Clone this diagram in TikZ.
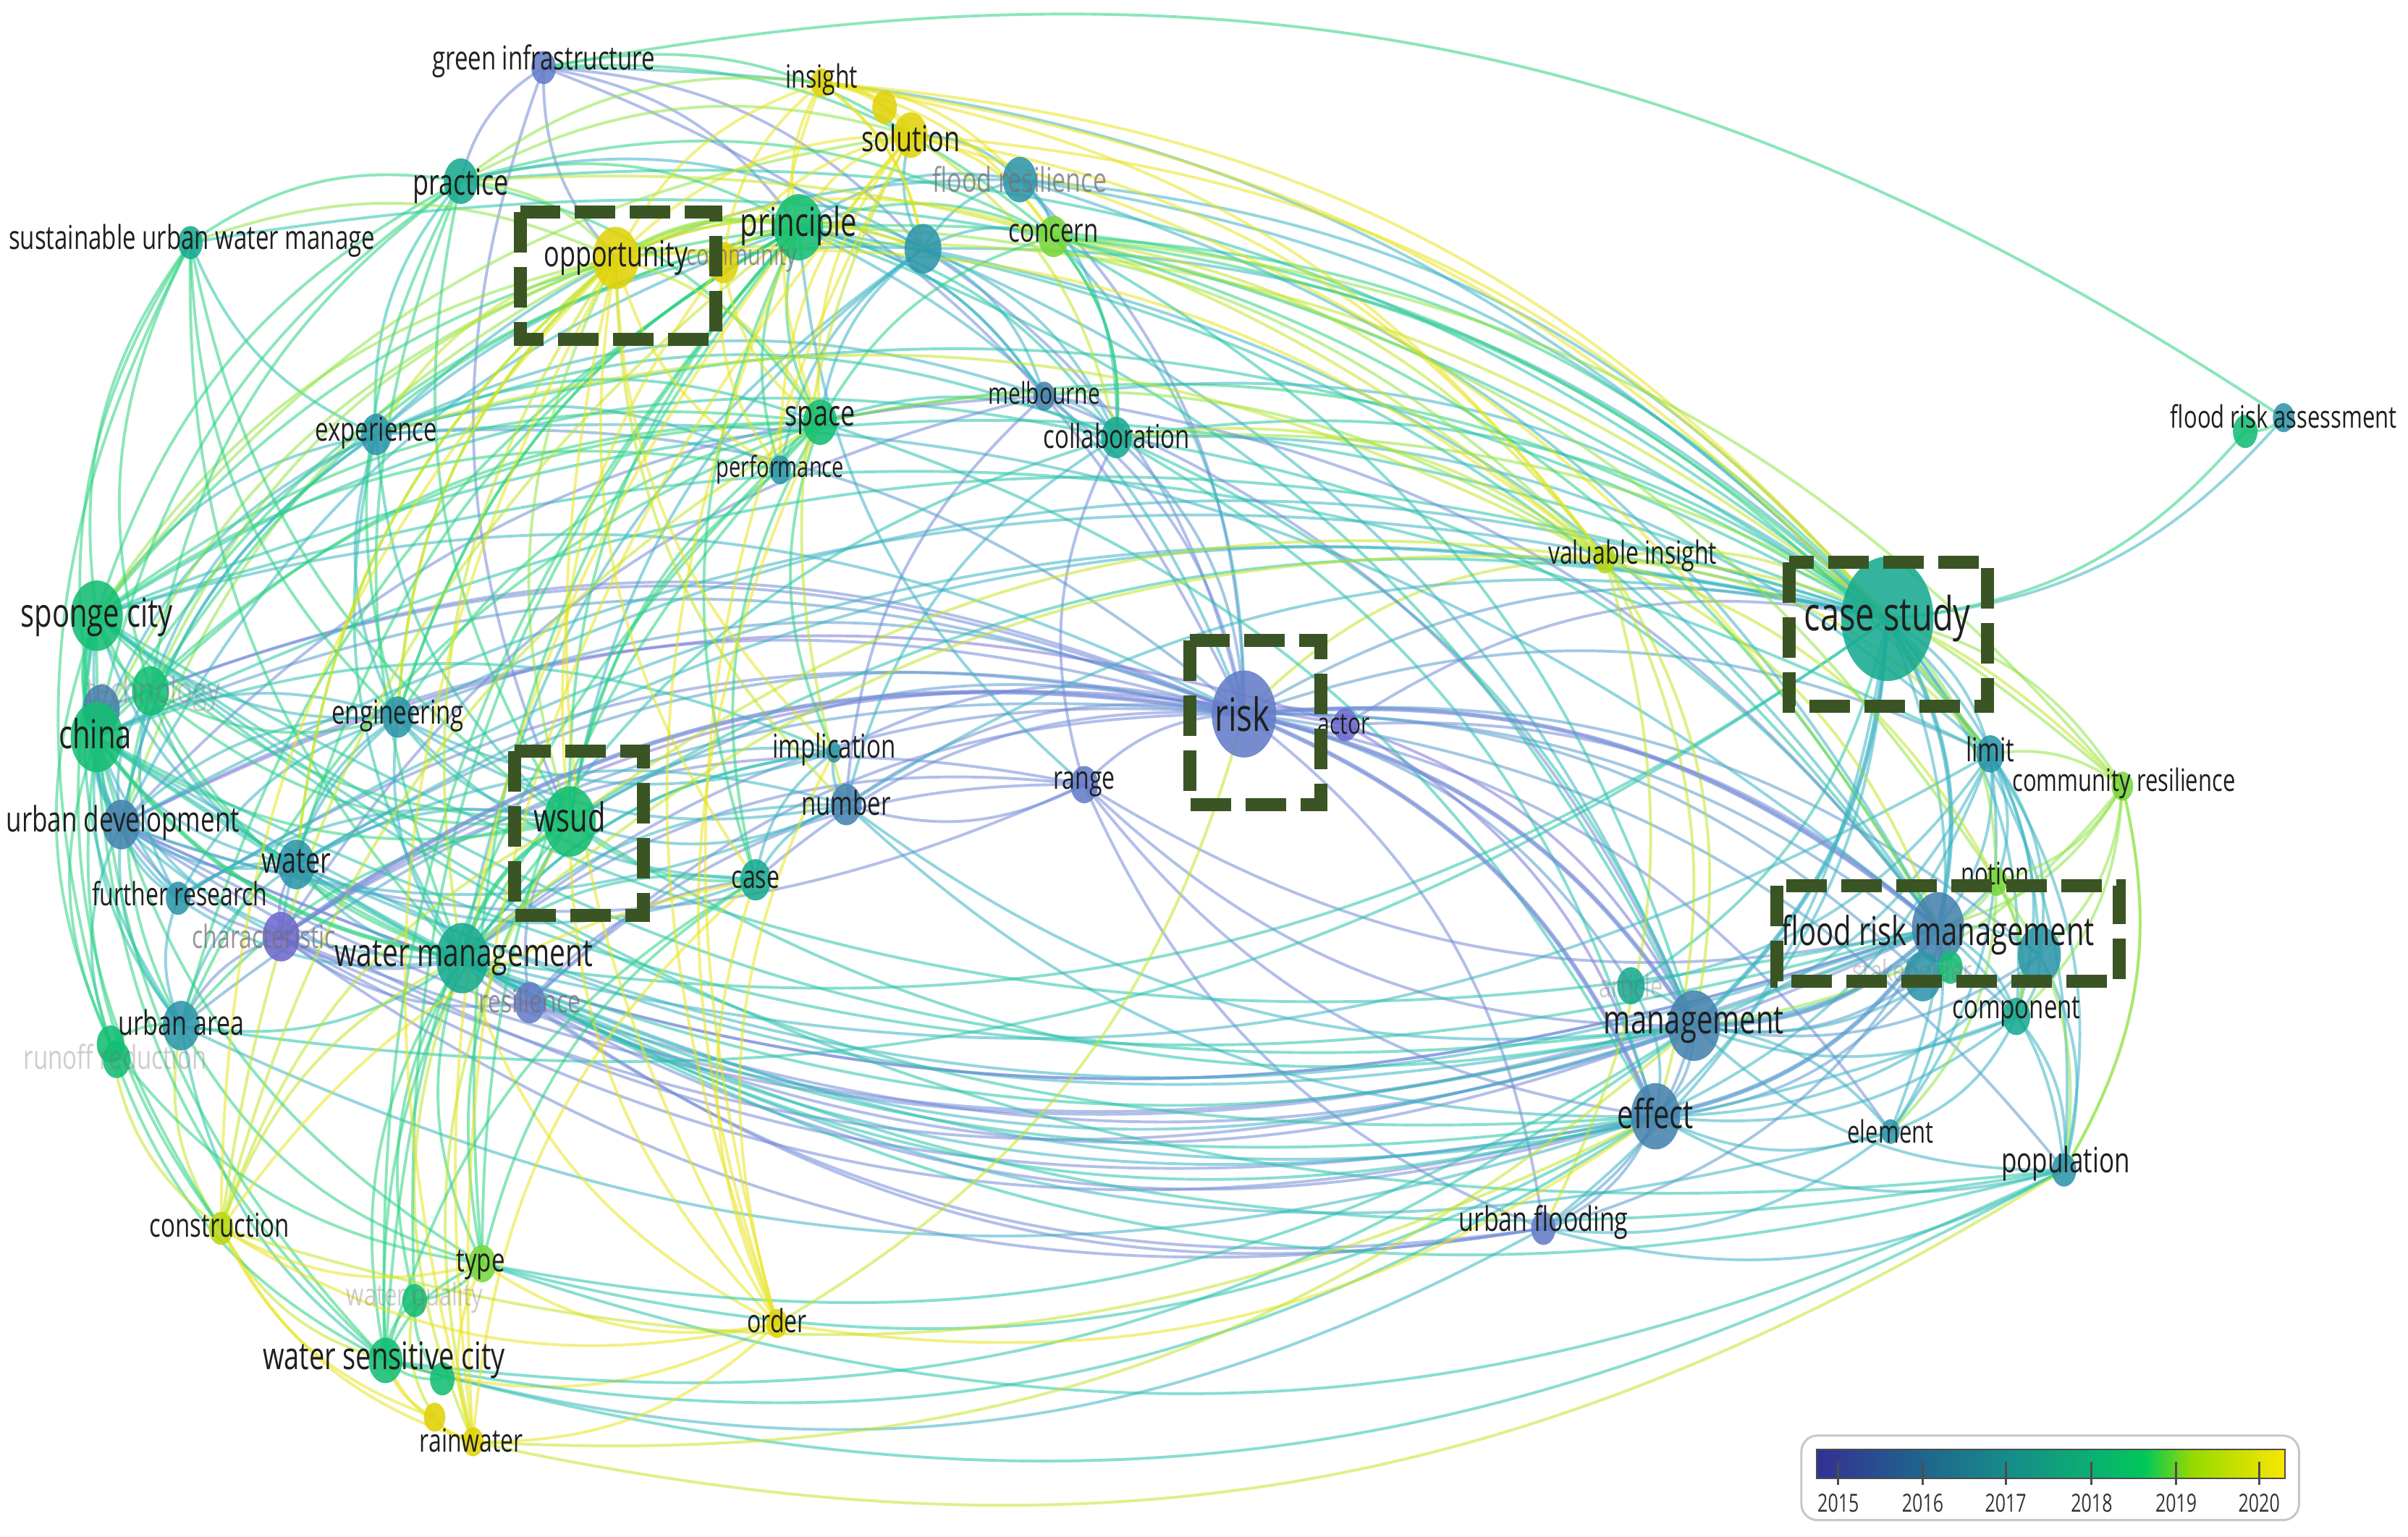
\documentclass[tikz,border=0pt]{standalone}
\usepackage{fontspec}
\usepackage{graphicx}
\setmainfont{Open Sans}
\usetikzlibrary{shapes.geometric}
\pgfdeclarelayer{bg}\pgfdeclarelayer{edges}
\pgfsetlayers{bg,edges,main}
% node colours
\definecolor{nB}{RGB}{100,125,200}
\definecolor{nP}{RGB}{110,105,205}
\definecolor{nBT}{RGB}{70,130,175}
\definecolor{nT}{RGB}{45,150,170}
\definecolor{nTG}{RGB}{25,170,145}
\definecolor{nG}{RGB}{20,190,115}
\definecolor{nL}{RGB}{120,215,60}
\definecolor{nYG}{RGB}{185,215,20}
\definecolor{nY}{RGB}{225,210,10}
% edge colours
\definecolor{eB}{RGB}{115,140,215}
\definecolor{eP}{RGB}{125,120,220}
\definecolor{eBT}{RGB}{90,155,205}
\definecolor{eT}{RGB}{60,180,195}
\definecolor{eTG}{RGB}{40,195,170}
\definecolor{eG}{RGB}{45,210,130}
\definecolor{eL}{RGB}{145,228,70}
\definecolor{eYG}{RGB}{195,228,40}
\definecolor{eY}{RGB}{232,228,30}
% legend
\definecolor{vA}{RGB}{52,48,148}
\definecolor{vB}{RGB}{32,100,140}
\definecolor{vC}{RGB}{22,140,138}
\definecolor{vD}{RGB}{10,178,112}
\definecolor{vE}{RGB}{0,200,90}
\definecolor{vF}{RGB}{150,218,0}
\definecolor{vG}{RGB}{250,230,0}
\definecolor{boxgreen}{RGB}{58,84,36}
\definecolor{fadetext}{RGB}{120,110,120}
\pgfdeclarehorizontalshading{vbar}{100bp}{color(0bp)=(vA); color(25bp)=(vA); color(36bp)=(vB); color(45.5bp)=(vC); color(55bp)=(vD); color(60bp)=(vE); color(65bp)=(vF); color(75bp)=(vG); color(100bp)=(vG)}
\tikzset{
  nd/.style={ellipse, inner sep=0pt, draw=none, fill opacity=0.88},
  lbl/.style={inner sep=0pt, text=black!88},
  lblf/.style={inner sep=0pt, text=fadetext, text opacity=0.75},
  lblff/.style={inner sep=0pt, text=fadetext, text opacity=0.35},
  lnk/.style={draw=#1, draw opacity=0.55},
  dbox/.style={draw=boxgreen, line width=18pt, dash pattern=on 56pt off 20pt},
}
\newcommand\Nd[5]{\node[nd, fill=#5, minimum width={4.2436*#4pt}, minimum height={5.73*#4pt}] (#1) at (#2,#3) {};}
\newcommand\Lb[6][lbl]{\node[#1, font=\fontsize{#5}{#5}\selectfont] (#2) at (#3,#4) {\scalebox{1}[1.38]{#6}};}
\newcommand\E[4][3.9pt]{%
  \pgfpointanchor{#2}{center}\pgfgetlastxy\ax\ay
  \pgfpointanchor{#3}{center}\pgfgetlastxy\bx\by
  \pgfmathsetmacro\dx{(\bx)-(\ax)}%
  \pgfmathsetmacro\dy{(\by)-(\ay)}%
  \pgfmathsetmacro\zz{((\dx)/100)*((-1061-(\ay))/100)-((\dy)/100)*((1655-(\ax))/100)}%
  \pgfmathsetmacro\SS{(\zz>0) ? -0.3746 : 0.3746}%
  \pgfmathsetmacro\cax{(\ax)+0.3915*(0.927*(\dx)-(\SS)*(\dy))}%
  \pgfmathsetmacro\cay{(\ay)+0.3915*((\SS)*(\dx)+0.927*(\dy))}%
  \pgfmathsetmacro\cbx{(\bx)-0.3915*(0.927*(\dx)+(\SS)*(\dy))}%
  \pgfmathsetmacro\cby{(\by)-0.3915*(0.927*(\dy)-(\SS)*(\dx))}%
  \draw[lnk=#4, line width=#1] (#2.center) .. controls (\cax pt,\cay pt) and (\cbx pt,\cby pt) .. (#3.center);
}
\begin{document}
\begin{tikzpicture}[x=2.1218pt,y=-2.1218pt]
\useasboundingbox (0,0) rectangle (1568,1001);
\begin{pgfonlayer}{bg}
\fill[white] (0,0) rectangle (1568,1001);
\end{pgfonlayer}
% ---------------- nodes ----------------
\Nd{gi}{354}{44}{8}{nB}
\Nd{ins}{535}{54}{7}{nY}
\Nd{insb}{576}{70}{8}{nY}
\Nd{sol}{593}{88}{11}{nY}
\Nd{fr}{664}{117}{11}{nT}
\Nd{pra}{300}{118}{11}{nTG}
\Nd{prn}{520}{148}{16}{nG}
\Nd{hub}{601}{162}{12}{nT}
\Nd{con}{686}{154}{10}{nL}
\Nd{opp}{401}{168}{15}{nY}
\Nd{com}{471}{171}{10}{nY}
\Nd{suw}{124}{158}{8}{nTG}
\Nd{exp}{245}{283}{10}{nT}
\Nd{spa}{534}{275}{11}{nG}
\Nd{per}{508}{306}{7}{nT}
\Nd{mel}{680}{258}{7}{nBT}
\Nd{col}{727}{285}{10}{nTG}
\Nd{sc}{63}{401}{17}{nG}
\Nd{tecb}{66}{462}{12}{nBT}
\Nd{tec}{98}{450}{12}{nG}
\Nd{chi}{63}{480}{17}{nG}
\Nd{eng}{259}{467}{10}{nT}
\Nd{wsud}{371}{535}{17}{nG}
\Nd{imp}{543}{490}{5}{nT}
\Nd{num}{551}{524}{10}{nBT}
\Nd{ran}{706}{511}{9}{nB}
\Nd{risk}{810}{465}{21}{nB}
\Nd{act}{876}{472}{8}{nP}
\Nd{ud}{79}{537}{12}{nBT}
\Nd{wat}{193}{563}{12}{nT}
\Nd{fre}{116}{585}{8}{nT}
\Nd{cha}{183}{610}{12}{nP}
\Nd{wm}{301}{624}{17}{nTG}
\Nd{res}{345}{653}{10}{nB}
\Nd{cas}{492}{573}{10}{nTG}
\Nd{ua}{118}{668}{12}{nT}
\Nd{ro}{72}{680}{9}{nG}
\Nd{rob}{76}{690}{9}{nG}
\Nd{cst}{144}{800}{8}{nYG}
\Nd{typ}{314}{823}{9}{nL}
\Nd{wq}{270}{847}{8}{nG}
\Nd{wsc}{251}{886}{11}{nG}
\Nd{wscb}{288}{898}{8}{nG}
\Nd{rwb}{283}{923}{7}{nY}
\Nd{rw}{308}{939}{7}{nY}
\Nd{ord}{506}{862}{7}{nY}
\Nd{vi}{1045}{364}{7}{nYG}
\Nd{cs}{1229}{403}{30}{nTG}
\Nd{frab}{1462}{281}{8}{nG}
\Nd{fra}{1487}{272}{7}{nT}
\Nd{lim}{1296}{491}{9}{nT}
\Nd{cr}{1382}{512}{7}{nL}
\Nd{not}{1300}{574}{7}{nL}
\Nd{frm}{1262}{604}{17}{nBT}
\Nd{frm2}{1328}{622}{14}{nT}
\Nd{frm3}{1252}{636}{12}{nT}
\Nd{stk}{1270}{630}{8}{nG}
\Nd{cmp}{1313}{662}{9}{nTG}
\Nd{art}{1062}{642}{9}{nTG}
\Nd{man}{1103}{668}{17}{nBT}
\Nd{eff}{1078}{727}{16}{nBT}
\Nd{ele}{1231}{737}{6}{nT}
\Nd{pop}{1344}{762}{8}{nT}
\Nd{uf}{1005}{800}{8}{nB}
% ---------------- edges ----------------
\begin{pgfonlayer}{edges}
\foreach \a/\b/\c in {risk/ran/eB, risk/act/eP, risk/man/eB, risk/eff/eB, risk/uf/eB, risk/frm/eB, risk/frm2/eBT, risk/frm3/eBT, risk/cs/eBT, risk/wm/eB, risk/cha/eB, risk/res/eB, risk/ud/eB, risk/chi/eBT, risk/eng/eBT, risk/exp/eBT, risk/wsud/eBT, risk/num/eB, risk/mel/eB, risk/col/eBT, risk/fre/eB, risk/wat/eBT, risk/lim/eBT, risk/ele/eB, risk/pop/eBT, risk/cmp/eBT, risk/art/eBT, risk/prn/eT, risk/gi/eB, risk/cas/eB, risk/imp/eB, risk/sc/eT, risk/ua/eBT, risk/fr/eB, risk/hub/eB, risk/con/eT, risk/vi/eYG, risk/tec/eB, risk/tecb/eB,
act/man/eP, act/eff/eP, act/frm/eB, act/cs/eB, act/cha/eP, act/ud/eP,
ran/man/eB, ran/eff/eB, ran/uf/eB, ran/wm/eB, ran/cha/eB, ran/ud/eB, ran/frm/eB, ran/num/eB, ran/res/eB, ran/prn/eT, ran/col/eB,
gi/pra/eB, gi/opp/eB, gi/prn/eB, gi/wsud/eB, gi/hub/eB, gi/cs/eT, gi/fra/eG, gi/sol/eG, gi/con/eG,
cha/man/eB, cha/eff/eB, cha/frm/eB, cha/uf/eB, cha/res/eB, cha/wat/eP, cha/ud/eB, cha/wm/eB, cha/ua/eB, cha/chi/eT,
res/eff/eB, res/man/eB, res/uf/eB, res/wm/eB, res/frm/eB, res/wsud/eB, res/cas/eB,
ud/man/eB, ud/eff/eB, ud/frm/eB, ud/cs/eT, ud/wat/eT, ud/fre/eT, ud/chi/eT, ud/sc/eT, ud/ua/eT, ud/wm/eT, ud/eng/eT, ud/tec/eT, ud/exp/eT, ud/ro/eTG, ud/prn/eT, ud/opp/eL,
man/frm/eBT, man/frm2/eBT, man/frm3/eBT, man/eff/eBT, man/cmp/eT, man/ele/eT, man/pop/eT, man/lim/eT, man/cs/eT, man/art/eT, man/uf/eBT, man/not/eT, man/stk/eT, man/chi/eT,
eff/frm/eBT, eff/frm2/eT, eff/cmp/eT, eff/ele/eT, eff/pop/eT, eff/lim/eT, eff/cs/eT, eff/uf/eBT, eff/art/eT, eff/frm3/eBT, eff/wat/eT, eff/ua/eT,
uf/frm/eBT, uf/cs/eT, uf/pop/eT, uf/wsc/eT, uf/wm/eB, uf/ele/eT,
frm/frm2/eT, frm/frm3/eT, frm/cmp/eT, frm/pop/eT, frm/ele/eT, frm/lim/eT, frm/cs/eT, frm/not/eL, frm/cr/eL, frm/stk/eG, frm/ud/eB, frm/wat/eT, frm/exp/eT,
frm2/cmp/eT, frm2/pop/eT, frm2/lim/eT, frm2/cs/eT, frm2/cr/eL,
cmp/pop/eT, cmp/lim/eT, cmp/cs/eT, cmp/ele/eT, cmp/not/eL, cmp/wm/eT,
lim/cs/eT, lim/cr/eL, lim/not/eT, lim/pop/eT, lim/ele/eT, lim/art/eT, lim/wm/eT, lim/sc/eTG,
pop/cs/eT, pop/not/eL, pop/cr/eL, ele/cs/eT, pop/chi/eTG, pop/sc/eTG, pop/wm/eTG, ele/wm/eT,
cs/fra/eT, cs/frab/eG, fra/frab/eG,
cs/cr/eL, cs/not/eL, cs/vi/eYG, cs/col/eTG, cs/con/eG, cs/fr/eT, cs/hub/eT, cs/prn/eG, cs/spa/eG, cs/sc/eTG, cs/chi/eTG, cs/wm/eTG, cs/wsud/eTG, cs/exp/eTG, cs/pra/eTG, cs/art/eTG, cs/num/eT, cs/sol/eY, cs/ins/eY, cs/opp/eYG, cs/suw/eTG, cs/mel/eT, cs/eng/eT, cs/ua/eTG, cs/wat/eT, cs/fre/eT,
fr/con/eT, fr/sol/eT, fr/prn/eT, fr/hub/eT, fr/col/eT, fr/frm/eT, fr/lim/eT, fr/exp/eT, fr/ins/eY,
hub/prn/eT, hub/sol/eT, hub/ins/eY, hub/con/eT, hub/col/eT, hub/spa/eT, hub/per/eT, hub/wsud/eT, hub/mel/eT, hub/man/eT, hub/frm/eT, hub/opp/eYG, hub/exp/eT, hub/wm/eT,
col/exp/eTG, col/prn/eTG, col/spa/eTG, col/man/eTG, col/eff/eTG, col/frm/eTG, col/mel/eT, col/num/eT, col/sc/eTG, col/con/eG, col/wm/eTG, col/cr/eL, col/lim/eT,
mel/man/eB, mel/frm/eB, mel/cha/eB, mel/ud/eB, mel/exp/eT, mel/prn/eT, mel/num/eB,
num/cas/eT, num/wsud/eT, num/imp/eT, num/man/eT, num/eff/eT, num/eng/eT, num/wm/eT, num/wat/eT, num/ud/eT,
imp/cas/eT, imp/wsud/eT, imp/eng/eT, imp/wm/eT, imp/spa/eG, imp/chi/eTG,
exp/sc/eT, exp/chi/eT, exp/eng/eT, exp/pra/eTG, exp/wsud/eTG, exp/wm/eTG, exp/suw/eTG, exp/spa/eTG, exp/per/eT, exp/tec/eT, exp/ud/eT,
eng/chi/eT, eng/sc/eT, eng/wat/eT, eng/wm/eT, eng/wsud/eTG, eng/cas/eT, eng/tec/eG, eng/fre/eT, eng/cha/eT, eng/opp/eYG, eng/prn/eG, eng/spa/eG,
wat/chi/eT, wat/fre/eT, wat/wm/eT, wat/ua/eT, wat/wsud/eT, wat/sc/eT, wat/tec/eT, wat/cas/eT, wat/opp/eYG, wat/prn/eG,
ua/chi/eTG, ua/ro/eG, ua/cst/eYG, ua/wm/eTG, ua/fre/eT, ua/wsc/eTG, ua/typ/eG, ua/sc/eTG, ua/tec/eG, ua/prn/eG, ua/spa/eG,
wm/chi/eG, wm/sc/eG, wm/wsud/eG, wm/cas/eTG, wm/typ/eG, wm/wsc/eG, wm/wq/eG, wm/fre/eT, wm/pra/eG, wm/eff/eTG, wm/man/eT, wm/frm/eTG, wm/imp/eTG, wm/tec/eG, wm/rw/eYG, wm/ord/eY, wm/cst/eYG,
fre/chi/eT, fre/sc/eT, fre/tec/eT, fre/wsud/eT,
sc/chi/eG, sc/tec/eG, sc/suw/eG, sc/pra/eG, sc/wsud/eG, sc/prn/eG, sc/spa/eG, sc/cst/eG, sc/ro/eG, sc/wsc/eG, sc/frm/eTG, sc/man/eTG, sc/eff/eTG, sc/per/eG, sc/opp/eL, sc/sol/eL,
chi/tec/eG, chi/ro/eG, chi/wsud/eG, chi/cst/eG, chi/typ/eG, chi/suw/eG, chi/pra/eG, chi/frm/eTG, chi/eff/eTG, chi/wsc/eG, chi/spa/eG, chi/tecb/eT, chi/opp/eL, chi/prn/eG,
tec/wsud/eG, tec/prn/eG, tec/pra/eG, tec/suw/eG, tec/opp/eL, tec/spa/eG,
suw/pra/eG, suw/wsud/eG, suw/ro/eG, suw/wm/eG, suw/eng/eG, suw/opp/eL,
pra/opp/eL, pra/prn/eG, pra/spa/eG, pra/sol/eL, pra/wsud/eG, pra/eng/eG, pra/ins/eL, pra/con/eG, pra/hub/eT,
prn/opp/eL, prn/spa/eG, prn/sol/eY, prn/ins/eY, prn/con/eG, prn/wsud/eG, prn/per/eG, prn/man/eTG, prn/frm/eTG, prn/vi/eL, prn/cas/eG, prn/eng/eG, prn/mel/eT,
spa/wsud/eG, spa/per/eG, spa/cas/eG, spa/con/eG, spa/vi/eL, spa/eff/eTG,
wsud/cas/eG, wsud/wsc/eG, wsud/typ/eG, wsud/ord/eY, wsud/rw/eYG, wsud/opp/eL, wsud/cst/eYG, wsud/ua/eG, wsud/per/eG, wsud/man/eTG,
wsc/wq/eG, wsc/typ/eG, wsc/rw/eY, wsc/rwb/eY, wsc/wscb/eG, wsc/cst/eYG, wsc/ord/eY, wsc/pop/eTG, wsc/eff/eTG, wsc/cas/eG, wsc/ro/eG, wsc/man/eTG, wsc/prn/eG, wsc/spa/eG,
ro/cst/eYG, ro/rob/eG, ro/typ/eG,
typ/wq/eG, typ/rw/eY, typ/cas/eG, typ/ord/eY, typ/man/eTG, typ/eff/eTG, typ/pop/eTG, typ/spa/eG, typ/prn/eG,
wq/rwb/eYG, wq/wscb/eG, wq/prn/eG,
opp/sol/eY, opp/ins/eY, opp/spa/eYG, opp/exp/eYG, opp/wm/eYG, opp/eng/eYG, opp/imp/eY, opp/num/eYG, opp/cas/eY, opp/per/eY, opp/com/eY, opp/vi/eY, opp/cst/eY, opp/ord/eY, opp/con/eY, opp/hub/eYG, opp/wat/eYG,
sol/ins/eY, sol/insb/eY, sol/con/eY, sol/col/eYG, sol/spa/eY, sol/vi/eY, sol/per/eY, sol/com/eY, sol/num/eYG, sol/frm/eY,
ins/insb/eY, ins/con/eY, ins/vi/eY, ins/com/eY, ins/spa/eY, ins/hub/eY, ins/lim/eY,
com/spa/eY, com/per/eY, com/prn/eY, com/wsud/eY,
ord/rw/eY, ord/cas/eY, ord/cst/eY, ord/spa/eY, ord/eff/eY, ord/risk/eYG, ord/imp/eY, ord/prn/eY, ord/sol/eY,
rw/rwb/eY, rw/cst/eY, rw/man/eYG, rw/cas/eY, rw/pop/eYG, rw/prn/eY, rw/opp/eY, rw/sol/eY,
cst/rwb/eY, cst/typ/eY, cst/cas/eY, cst/eff/eYG, cst/prn/eYG, cst/spa/eYG,
vi/man/eYG, vi/eff/eYG, vi/frm/eYG, vi/cr/eYG, vi/not/eYG, vi/uf/eYG, vi/lim/eYG, vi/col/eYG, vi/con/eYG, vi/pra/eYG, vi/wsud/eYG, vi/exp/eYG, vi/wm/eYG,
con/col/eG, con/frm/eG, con/cr/eL, con/not/eL, con/lim/eG, con/man/eTG,
cr/cmp/eL, cr/pop/eL, cr/man/eL, cr/not/eL,
not/cmp/eL, not/ele/eL}{\E{\a}{\b}{\c}}
\foreach \a/\b/\c in {risk/man/eB, risk/eff/eB, risk/frm/eB, cs/frm/eT, cs/man/eT, sc/chi/eG, wm/wsud/eG, man/frm/eBT, eff/frm/eBT, wm/chi/eG, prn/opp/eL, risk/cha/eB, ud/chi/eT}{\E[6.5pt]{\a}{\b}{\c}}
\end{pgfonlayer}
% ---------------- labels ----------------
\Lb[lblf]{t-com}{483}{168}{29}{community}
\Lb{t-gi}{354}{40}{33}{green infrastructure}
\Lb{t-ins}{535}{52}{32}{insight}
\Lb{t-sol}{593}{90}{36}{solution}
\Lb[lblf]{t-fr}{664}{117}{34}{flood resilience}
\Lb{t-pra}{300}{121}{36}{practice}
\Lb{t-prn}{520}{147}{40}{principle}
\Lb{t-con}{686}{152}{33}{concern}
\Lb{t-opp}{401}{168}{36}{opportunity}
\Lb{t-suw}{125}{157}{33}{sustainable urban water manage}
\Lb{t-exp}{245}{282}{33}{experience}
\Lb{t-spa}{534}{274}{36}{space}
\Lb{t-per}{508}{306}{29}{performance}
\Lb{t-mel}{680}{256}{30}{melbourne}
\Lb{t-col}{727}{284}{33}{collaboration}
\Lb{t-sc}{63}{402}{40}{sponge city}
\Lb[lblff]{t-tec}{100}{452}{36}{technology}
\Lb{t-chi}{62}{478}{40}{china}
\Lb{t-eng}{259}{466}{33}{engineering}
\Lb{t-wsud}{371}{532}{40}{wsud}
\Lb{t-imp}{543}{488}{33}{implication}
\Lb{t-num}{551}{523}{33}{number}
\Lb{t-ran}{706}{511}{32}{range}
\Lb{t-risk}{809}{465}{46}{risk}
\Lb{t-act}{875}{472}{30}{actor}
\Lb{t-ud}{80}{536}{35}{urban development}
\Lb{t-wat}{193}{561}{36}{water}
\Lb{t-fre}{117}{582}{32}{further research}
\Lb[lblf]{t-cha}{172}{610}{32}{characteristic}
\Lb{t-wm}{302}{624}{39}{water management}
\Lb[lblf]{t-res}{345}{652}{32}{resilience}
\Lb{t-cas}{492}{573}{32}{case}
\Lb{t-ua}{118}{666}{34}{urban area}
\Lb[lblff]{t-ro}{75}{688}{33}{runoff reduction}
\Lb{t-cst}{143}{798}{33}{construction}
\Lb{t-typ}{313}{824}{33}{type}
\Lb[lblff]{t-wq}{270}{845}{31}{water quality}
\Lb{t-wsc}{250}{886}{38}{water sensitive city}
\Lb{t-rw}{307}{938}{32}{rainwater}
\Lb{t-ord}{506}{860}{32}{order}
\Lb{t-vi}{1063}{362}{32}{valuable insight}
\Lb{t-cs}{1229}{403}{47}{case study}
\Lb{t-fra}{1487}{271}{31}{flood risk assessment}
\Lb{t-lim}{1296}{488}{33}{limit}
\Lb{t-cr}{1383}{510}{31}{community resilience}
\Lb{t-not}{1299}{569}{31}{notion}
\Lb[lblff]{t-stk}{1245}{632}{30}{stakeholder}
\Lb{t-frm}{1262}{609}{40}{flood risk management}
\Lb{t-cmp}{1313}{659}{33}{component}
\Lb[lblff]{t-art}{1062}{642}{31}{article}
\Lb{t-man}{1103}{668}{40}{management}
\Lb{t-eff}{1078}{725}{40}{effect}
\Lb{t-ele}{1231}{737}{31}{element}
\Lb{t-pop}{1345}{758}{35}{population}
\Lb{t-uf}{1005}{796}{34}{urban flooding}
% ---------------- dashed highlight boxes ----------------
\draw[dbox] (339,138) rectangle (466,221);
\draw[dbox] (335,489) rectangle (419,596);
\draw[dbox] (775,417) rectangle (860,524);
\draw[dbox] (1165,366) rectangle (1294,460);
\draw[dbox] (1157,577) rectangle (1380,639);
% ---------------- legend ----------------
\draw[black!22, line width=3pt, fill=white, rounded corners=22pt] (1173,935) rectangle (1497,990);
\shade[shading=vbar] (1183,944) rectangle (1488,963);
\draw[black!70, line width=2pt] (1183,944) rectangle (1488,963);
\foreach \yr/\xx in {2015/1197, 2016/1252, 2017/1306, 2018/1362, 2019/1417, 2020/1471}{
  \draw[black!70, line width=3pt] (\xx,952) -- (\xx,967);
  \node[inner sep=0pt, text=black!80, font=\fontsize{25}{25}\selectfont] (yr\yr) at (\xx,979) {\scalebox{1}[1.38]{\yr}};
}
\end{tikzpicture}
\end{document}
